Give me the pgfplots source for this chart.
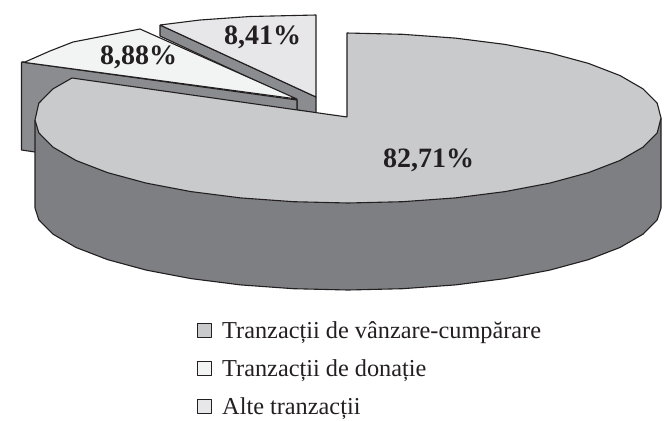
\documentclass[border=0pt]{standalone}
\usepackage{pgfplots}
\pgfplotsset{compat=1.18}
\usepackage{fontspec}
\setmainfont{Liberation Serif}
\definecolor{ink}{HTML}{231F20}
\definecolor{bigtop}{HTML}{C9CACC}
\definecolor{bigside}{HTML}{7E7F83}
\definecolor{smallside}{HTML}{8B8C90}
\definecolor{donatie}{HTML}{F2F4F4}
\definecolor{alte}{HTML}{E7E7E9}
\begin{document}
\begin{tikzpicture}[x=1bp,y=1bp]
\useasboundingbox (0,0) rectangle (665,420);
\begin{axis}[
  at={(0,0)},anchor=south west,
  scale only axis,width=665bp,height=420bp,
  xmin=0,xmax=665,ymin=0,ymax=420,y dir=reverse,
  axis lines=none,clip=false,
  every axis plot/.append style={draw=ink,line width=1.1bp,line join=round,mark=none}]
% slice 3 side and top
\addplot[fill=smallside] coordinates {(160,25)(160,36)(297,100)(297,110)(316,113)(316,97)(160,25)};
\addplot[fill=alte] coordinates {(160,25)(200,20)(250,16.5)(316,15)(316,97)(160,25)};
% slice 2 side and top
\addplot[fill=smallside] coordinates {(21.5,62)(297,100)(297,110)(35,152)(21.5,150)(21.5,62)};
\addplot[fill=donatie] coordinates {(21.5,62)(25,62)(50,51)(73,42)(140,29)(297,99)(21.5,62)};
% big slice side
\addplot[fill=bigside] coordinates {(661,118)(661,208)(657.2,219.8)(643.1,234.1)(619.9,247.5)(588.5,259.6)(549.8,270.1)(505,278.6)(455.4,284.9)(402.5,288.7)(348,290)(293.5,288.7)(240.6,284.9)(191,278.6)(146.2,270.1)(107.5,259.6)(76.1,247.5)(52.9,234.1)(38.8,219.8)(35,208)(35,120)};
% big slice top
\addplot[fill=bigtop] coordinates {(347,117)(347,33)(402.5,34.3)(455.4,38.1)(505,44.4)(549.8,52.9)(588.5,63.4)(619.9,75.5)(643.1,88.9)(657.2,103.2)(661,118)(657.2,132.8)(643.1,147.1)(619.9,160.5)(588.5,172.6)(549.8,183.1)(505,191.6)(455.4,197.9)(402.5,201.7)(348,203)(293.5,201.7)(240.6,197.9)(191,191.6)(146.2,183.1)(107.5,172.6)(76.1,160.5)(52.9,147.1)(38.8,132.8)(35,120)(38.8,103.2)(52.9,88.9)(72,78)(347,117)};
% legend swatches
\addplot[only marks,mark=square*,mark size=7bp,mark options={fill=bigtop,draw=ink,line width=.8bp}] coordinates {(204,330)};
\addplot[only marks,mark=square*,mark size=7bp,mark options={fill=donatie,draw=ink,line width=.8bp}] coordinates {(204,368)};
\addplot[only marks,mark=square*,mark size=7bp,mark options={fill=alte,draw=ink,line width=.8bp}] coordinates {(204,406)};
\def\lab#1#2#3{\node[anchor=base,inner sep=0,text=ink,font=\fontsize{28bp}{30bp}\selectfont\bfseries] at (axis cs:#1,#2) {#3};}
\lab{428.5}{167}{82,71\%}
\lab{138.5}{64}{8,88\%}
\lab{262.5}{44}{8,41\%}
\def\leg#1#2{\node[anchor=base west,inner sep=0,text=ink,font=\fontsize{24.3bp}{26bp}\selectfont] at (axis cs:222,#1) {#2};}
\leg{338}{Tranzacții de vânzare-cumpărare}
\leg{376}{Tranzacții de donație}
\leg{414}{Alte tranzacții}
\end{axis}
\end{tikzpicture}
\end{document}
